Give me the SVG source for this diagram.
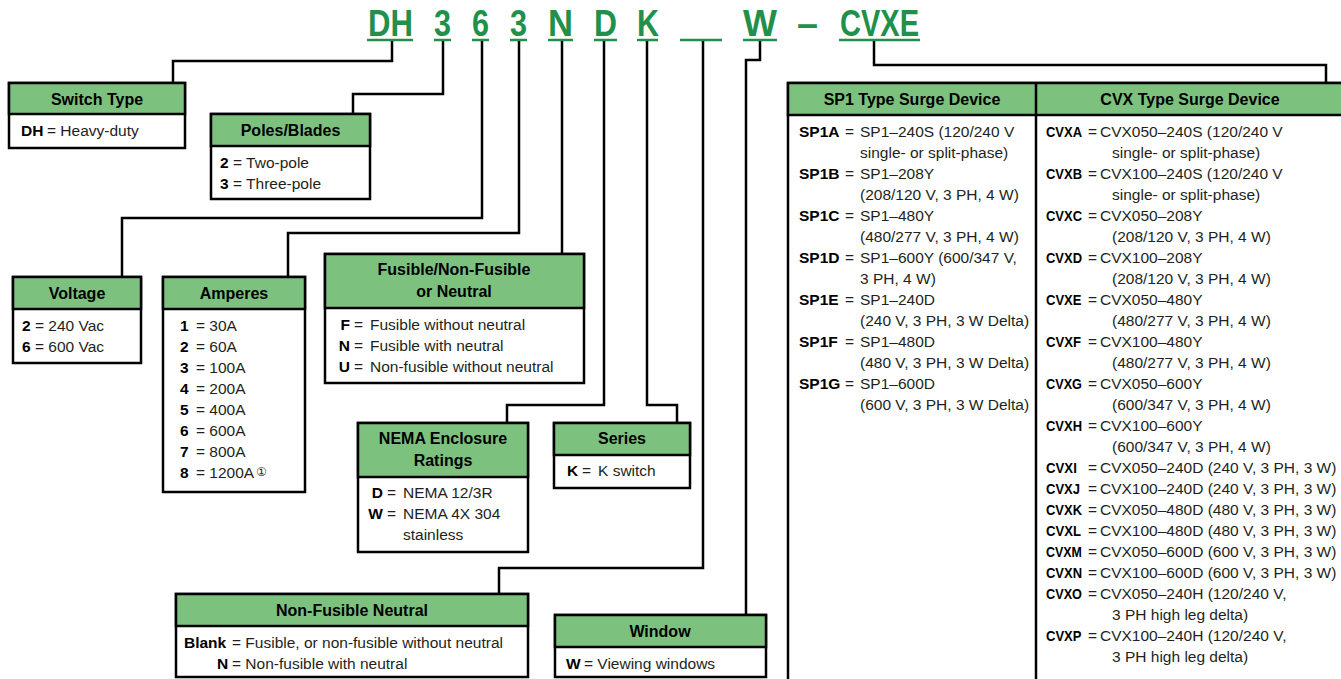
<svg xmlns="http://www.w3.org/2000/svg" width="1341" height="679" viewBox="0 0 1341 679">
<style>
.box{fill:#fff;stroke:#000;stroke-width:2.5}
.hdr{fill:#7dc17f;stroke:#000;stroke-width:2.5}
.ht{font-family:'Liberation Sans',Arial,sans-serif;font-weight:bold;font-size:16px;text-anchor:middle;fill:#000}
.t{font-family:'Liberation Sans',Arial,sans-serif;font-size:15.5px;fill:#231f20}
.k{font-family:'Liberation Sans',Arial,sans-serif;font-size:15.5px;font-weight:bold;fill:#000}
.e{text-anchor:end}
.code{font-family:'Liberation Sans',Arial,sans-serif;font-weight:bold;font-size:36px;fill:#21904a}
.ul{stroke:#21904a;stroke-width:2.5;fill:none}
.con{fill:none;stroke:#000;stroke-width:2.5}
.fn{font-family:'DejaVu Sans','Noto Sans CJK JP',sans-serif;font-size:12px;fill:#231f20}
</style>

<g id="code">
<text class="code" x="368" y="36" textLength="45" lengthAdjust="spacingAndGlyphs">DH</text>
<text class="code" x="434" y="36" textLength="17" lengthAdjust="spacingAndGlyphs">3</text>
<text class="code" x="472" y="36" textLength="17" lengthAdjust="spacingAndGlyphs">6</text>
<text class="code" x="510" y="36" textLength="17" lengthAdjust="spacingAndGlyphs">3</text>
<text class="code" x="548" y="36" textLength="25" lengthAdjust="spacingAndGlyphs">N</text>
<text class="code" x="594" y="36" textLength="23" lengthAdjust="spacingAndGlyphs">D</text>
<text class="code" x="637" y="36" textLength="22" lengthAdjust="spacingAndGlyphs">K</text>
<text class="code" x="743" y="36" textLength="34" lengthAdjust="spacingAndGlyphs">W</text>
<text class="code" x="797" y="36" textLength="21" lengthAdjust="spacingAndGlyphs">–</text>
<text class="code" x="840" y="36" textLength="79" lengthAdjust="spacingAndGlyphs">CVXE</text>
<path class="ul" d="M367 40H413M434 40H451M472 40H489M510 40H527M548 40H573M594 40H617M637 40H658M680 40H722M743 40H777M839 40H920"/>
</g>

<g id="connectors">
<polyline class="con" points="392,41 392,61 173,61 173,83"/>
<polyline class="con" points="443,41 443,94 353,94 353,114"/>
<polyline class="con" points="482,41 482,218 122,218 122,277"/>
<polyline class="con" points="519,41 519,233 288,233 288,277"/>
<polyline class="con" points="562,41 562,254"/>
<polyline class="con" points="604,41 604,405 507,405 507,423"/>
<polyline class="con" points="647,41 647,405 677,405 677,423"/>
<polyline class="con" points="703,41 703,568 499,568 499,594"/>
<polyline class="con" points="760,41 760,60 746,60 746,615"/>
<polyline class="con" points="874,41 874,65 1326,65 1326,83"/>
</g>

<g id="switch-type">
<rect class="box" x="9" y="83" width="176" height="65"/>
<rect class="hdr" x="9" y="83" width="176" height="31"/>
<text class="ht" x="97" y="105">Switch Type</text>
<text class="k" x="21" y="136">DH</text><text class="t" x="47" y="136">= Heavy-duty</text>
</g>

<g id="poles-blades">
<rect class="box" x="211" y="114" width="159" height="85"/>
<rect class="hdr" x="211" y="114" width="159" height="32"/>
<text class="ht" x="290.5" y="136">Poles/Blades</text>
<text class="k" x="220" y="168">2</text><text class="t" x="233" y="168">= Two-pole</text>
<text class="k" x="220" y="189">3</text><text class="t" x="233" y="189">= Three-pole</text>
</g>

<g id="voltage">
<rect class="box" x="13" y="277" width="128" height="86"/>
<rect class="hdr" x="13" y="277" width="128" height="32"/>
<text class="ht" x="77" y="299">Voltage</text>
<text class="k" x="22" y="331">2</text><text class="t" x="35" y="331">= 240 Vac</text>
<text class="k" x="22" y="352">6</text><text class="t" x="35" y="352">= 600 Vac</text>
</g>

<g id="amperes">
<rect class="box" x="163" y="277" width="142" height="215"/>
<rect class="hdr" x="163" y="277" width="142" height="32"/>
<text class="ht" x="234" y="299">Amperes</text>
<text class="k" x="180" y="331">1</text><text class="t" x="196" y="331">= 30A</text>
<text class="k" x="180" y="352">2</text><text class="t" x="196" y="352">= 60A</text>
<text class="k" x="180" y="373">3</text><text class="t" x="196" y="373">= 100A</text>
<text class="k" x="180" y="394">4</text><text class="t" x="196" y="394">= 200A</text>
<text class="k" x="180" y="415">5</text><text class="t" x="196" y="415">= 400A</text>
<text class="k" x="180" y="436">6</text><text class="t" x="196" y="436">= 600A</text>
<text class="k" x="180" y="457">7</text><text class="t" x="196" y="457">= 800A</text>
<text class="k" x="180" y="478">8</text><text class="t" x="196" y="478">= 1200A</text>
<text class="fn" x="256" y="476">①</text>
</g>

<g id="fusible">
<rect class="box" x="325" y="254" width="259" height="129"/>
<rect class="hdr" x="325" y="254" width="259" height="54"/>
<text class="ht" x="454" y="275">Fusible/Non-Fusible</text>
<text class="ht" x="454" y="297">or Neutral</text>
<text class="k e" x="350" y="330">F</text><text class="t" x="354" y="330">=</text><text class="t" x="370" y="330">Fusible without neutral</text>
<text class="k e" x="350" y="351">N</text><text class="t" x="354" y="351">=</text><text class="t" x="370" y="351">Fusible with neutral</text>
<text class="k e" x="350" y="372">U</text><text class="t" x="354" y="372">=</text><text class="t" x="370" y="372">Non-fusible without neutral</text>
</g>

<g id="nema">
<rect class="box" x="358" y="423" width="170" height="129"/>
<rect class="hdr" x="358" y="423" width="170" height="54"/>
<text class="ht" x="443" y="444">NEMA Enclosure</text>
<text class="ht" x="443" y="466">Ratings</text>
<text class="k e" x="383" y="498">D</text><text class="t" x="387" y="498">=</text><text class="t" x="403" y="498">NEMA 12/3R</text>
<text class="k e" x="383" y="519">W</text><text class="t" x="387" y="519">=</text><text class="t" x="403" y="519">NEMA 4X 304</text>
<text class="t" x="403" y="540">stainless</text>
</g>

<g id="series">
<rect class="box" x="554" y="423" width="136" height="65"/>
<rect class="hdr" x="554" y="423" width="136" height="32"/>
<text class="ht" x="622" y="444">Series</text>
<text class="k" x="567" y="476">K</text><text class="t" x="582" y="476">=</text><text class="t" x="598" y="476">K switch</text>
</g>

<g id="non-fusible-neutral">
<rect class="box" x="176" y="594" width="352" height="83"/>
<rect class="hdr" x="176" y="594" width="352" height="32"/>
<text class="ht" x="352" y="616">Non-Fusible Neutral</text>
<text class="k" x="184" y="648">Blank</text><text class="t" x="232" y="648">= Fusible, or non-fusible without neutral</text>
<text class="k" x="217" y="669">N</text><text class="t" x="232" y="669">= Non-fusible with neutral</text>
</g>

<g id="window">
<rect class="box" x="555" y="615" width="211" height="62"/>
<rect class="hdr" x="555" y="615" width="211" height="32"/>
<text class="ht" x="660" y="637">Window</text>
<text class="k" x="566" y="669">W</text><text class="t" x="584" y="669">= Viewing windows</text>
</g>

<g id="surge-table">
<rect class="box" x="788" y="83" width="560" height="610"/>
<rect class="hdr" x="788" y="83" width="560" height="32"/>
<line class="con" x1="1036" y1="83" x2="1036" y2="690"/>
<text class="ht" x="912" y="105">SP1 Type Surge Device</text>
<text class="ht" x="1190" y="105">CVX Type Surge Device</text>
<g id="sp1-column">
<text class="k" x="799" y="137">SP1A</text><text class="t" x="845" y="137">=</text><text class="t" x="860" y="137">SP1–240S (120/240 V</text>
<text class="t" x="860" y="158">single- or split-phase)</text>
<text class="k" x="799" y="179">SP1B</text><text class="t" x="845" y="179">=</text><text class="t" x="860" y="179">SP1–208Y</text>
<text class="t" x="860" y="200">(208/120 V, 3 PH, 4 W)</text>
<text class="k" x="799" y="221">SP1C</text><text class="t" x="845" y="221">=</text><text class="t" x="860" y="221">SP1–480Y</text>
<text class="t" x="860" y="242">(480/277 V, 3 PH, 4 W)</text>
<text class="k" x="799" y="263">SP1D</text><text class="t" x="845" y="263">=</text><text class="t" x="860" y="263">SP1–600Y (600/347 V,</text>
<text class="t" x="860" y="284">3 PH, 4 W)</text>
<text class="k" x="799" y="305">SP1E</text><text class="t" x="845" y="305">=</text><text class="t" x="860" y="305">SP1–240D</text>
<text class="t" x="860" y="326">(240 V, 3 PH, 3 W Delta)</text>
<text class="k" x="799" y="347">SP1F</text><text class="t" x="845" y="347">=</text><text class="t" x="860" y="347">SP1–480D</text>
<text class="t" x="860" y="368">(480 V, 3 PH, 3 W Delta)</text>
<text class="k" x="799" y="389">SP1G</text><text class="t" x="845" y="389">=</text><text class="t" x="860" y="389">SP1–600D</text>
<text class="t" x="860" y="410">(600 V, 3 PH, 3 W Delta)</text>
</g>
<g id="cvx-column">
<text class="k" x="1046" y="137" textLength="36" lengthAdjust="spacingAndGlyphs">CVXA</text><text class="t" x="1088" y="137">=</text><text class="t" x="1100" y="137">CVX050–240S (120/240 V</text>
<text class="t" x="1112" y="158">single- or split-phase)</text>
<text class="k" x="1046" y="179" textLength="36" lengthAdjust="spacingAndGlyphs">CVXB</text><text class="t" x="1088" y="179">=</text><text class="t" x="1100" y="179">CVX100–240S (120/240 V</text>
<text class="t" x="1112" y="200">single- or split-phase)</text>
<text class="k" x="1046" y="221" textLength="36" lengthAdjust="spacingAndGlyphs">CVXC</text><text class="t" x="1088" y="221">=</text><text class="t" x="1100" y="221">CVX050–208Y</text>
<text class="t" x="1112" y="242">(208/120 V, 3 PH, 4 W)</text>
<text class="k" x="1046" y="263" textLength="36" lengthAdjust="spacingAndGlyphs">CVXD</text><text class="t" x="1088" y="263">=</text><text class="t" x="1100" y="263">CVX100–208Y</text>
<text class="t" x="1112" y="284">(208/120 V, 3 PH, 4 W)</text>
<text class="k" x="1046" y="305" textLength="35.5" lengthAdjust="spacingAndGlyphs">CVXE</text><text class="t" x="1088" y="305">=</text><text class="t" x="1100" y="305">CVX050–480Y</text>
<text class="t" x="1112" y="326">(480/277 V, 3 PH, 4 W)</text>
<text class="k" x="1046" y="347" textLength="35" lengthAdjust="spacingAndGlyphs">CVXF</text><text class="t" x="1088" y="347">=</text><text class="t" x="1100" y="347">CVX100–480Y</text>
<text class="t" x="1112" y="368">(480/277 V, 3 PH, 4 W)</text>
<text class="k" x="1046" y="389" textLength="36" lengthAdjust="spacingAndGlyphs">CVXG</text><text class="t" x="1088" y="389">=</text><text class="t" x="1100" y="389">CVX050–600Y</text>
<text class="t" x="1112" y="410">(600/347 V, 3 PH, 4 W)</text>
<text class="k" x="1046" y="431" textLength="36" lengthAdjust="spacingAndGlyphs">CVXH</text><text class="t" x="1088" y="431">=</text><text class="t" x="1100" y="431">CVX100–600Y</text>
<text class="t" x="1112" y="452">(600/347 V, 3 PH, 4 W)</text>
<text class="k" x="1046" y="473" textLength="30.8" lengthAdjust="spacingAndGlyphs">CVXI</text><text class="t" x="1088" y="473">=</text><text class="t" x="1100" y="473">CVX050–240D (240 V, 3 PH, 3 W)</text>
<text class="k" x="1046" y="494" textLength="34" lengthAdjust="spacingAndGlyphs">CVXJ</text><text class="t" x="1088" y="494">=</text><text class="t" x="1100" y="494">CVX100–240D (240 V, 3 PH, 3 W)</text>
<text class="k" x="1046" y="515" textLength="36" lengthAdjust="spacingAndGlyphs">CVXK</text><text class="t" x="1088" y="515">=</text><text class="t" x="1100" y="515">CVX050–480D (480 V, 3 PH, 3 W)</text>
<text class="k" x="1046" y="536" textLength="35" lengthAdjust="spacingAndGlyphs">CVXL</text><text class="t" x="1088" y="536">=</text><text class="t" x="1100" y="536">CVX100–480D (480 V, 3 PH, 3 W)</text>
<text class="k" transform="translate(1046,557) scale(0.8,1)">CVXM</text><text class="t" x="1088" y="557">=</text><text class="t" x="1100" y="557">CVX050–600D (600 V, 3 PH, 3 W)</text>
<text class="k" x="1046" y="578" textLength="36" lengthAdjust="spacingAndGlyphs">CVXN</text><text class="t" x="1088" y="578">=</text><text class="t" x="1100" y="578">CVX100–600D (600 V, 3 PH, 3 W)</text>
<text class="k" x="1046" y="599" textLength="36" lengthAdjust="spacingAndGlyphs">CVXO</text><text class="t" x="1088" y="599">=</text><text class="t" x="1100" y="599">CVX050–240H (120/240 V,</text>
<text class="t" x="1112" y="620">3 PH high leg delta)</text>
<text class="k" x="1046" y="641" textLength="35.5" lengthAdjust="spacingAndGlyphs">CVXP</text><text class="t" x="1088" y="641">=</text><text class="t" x="1100" y="641">CVX100–240H (120/240 V,</text>
<text class="t" x="1112" y="662">3 PH high leg delta)</text>
</g>
</g>
</svg>
